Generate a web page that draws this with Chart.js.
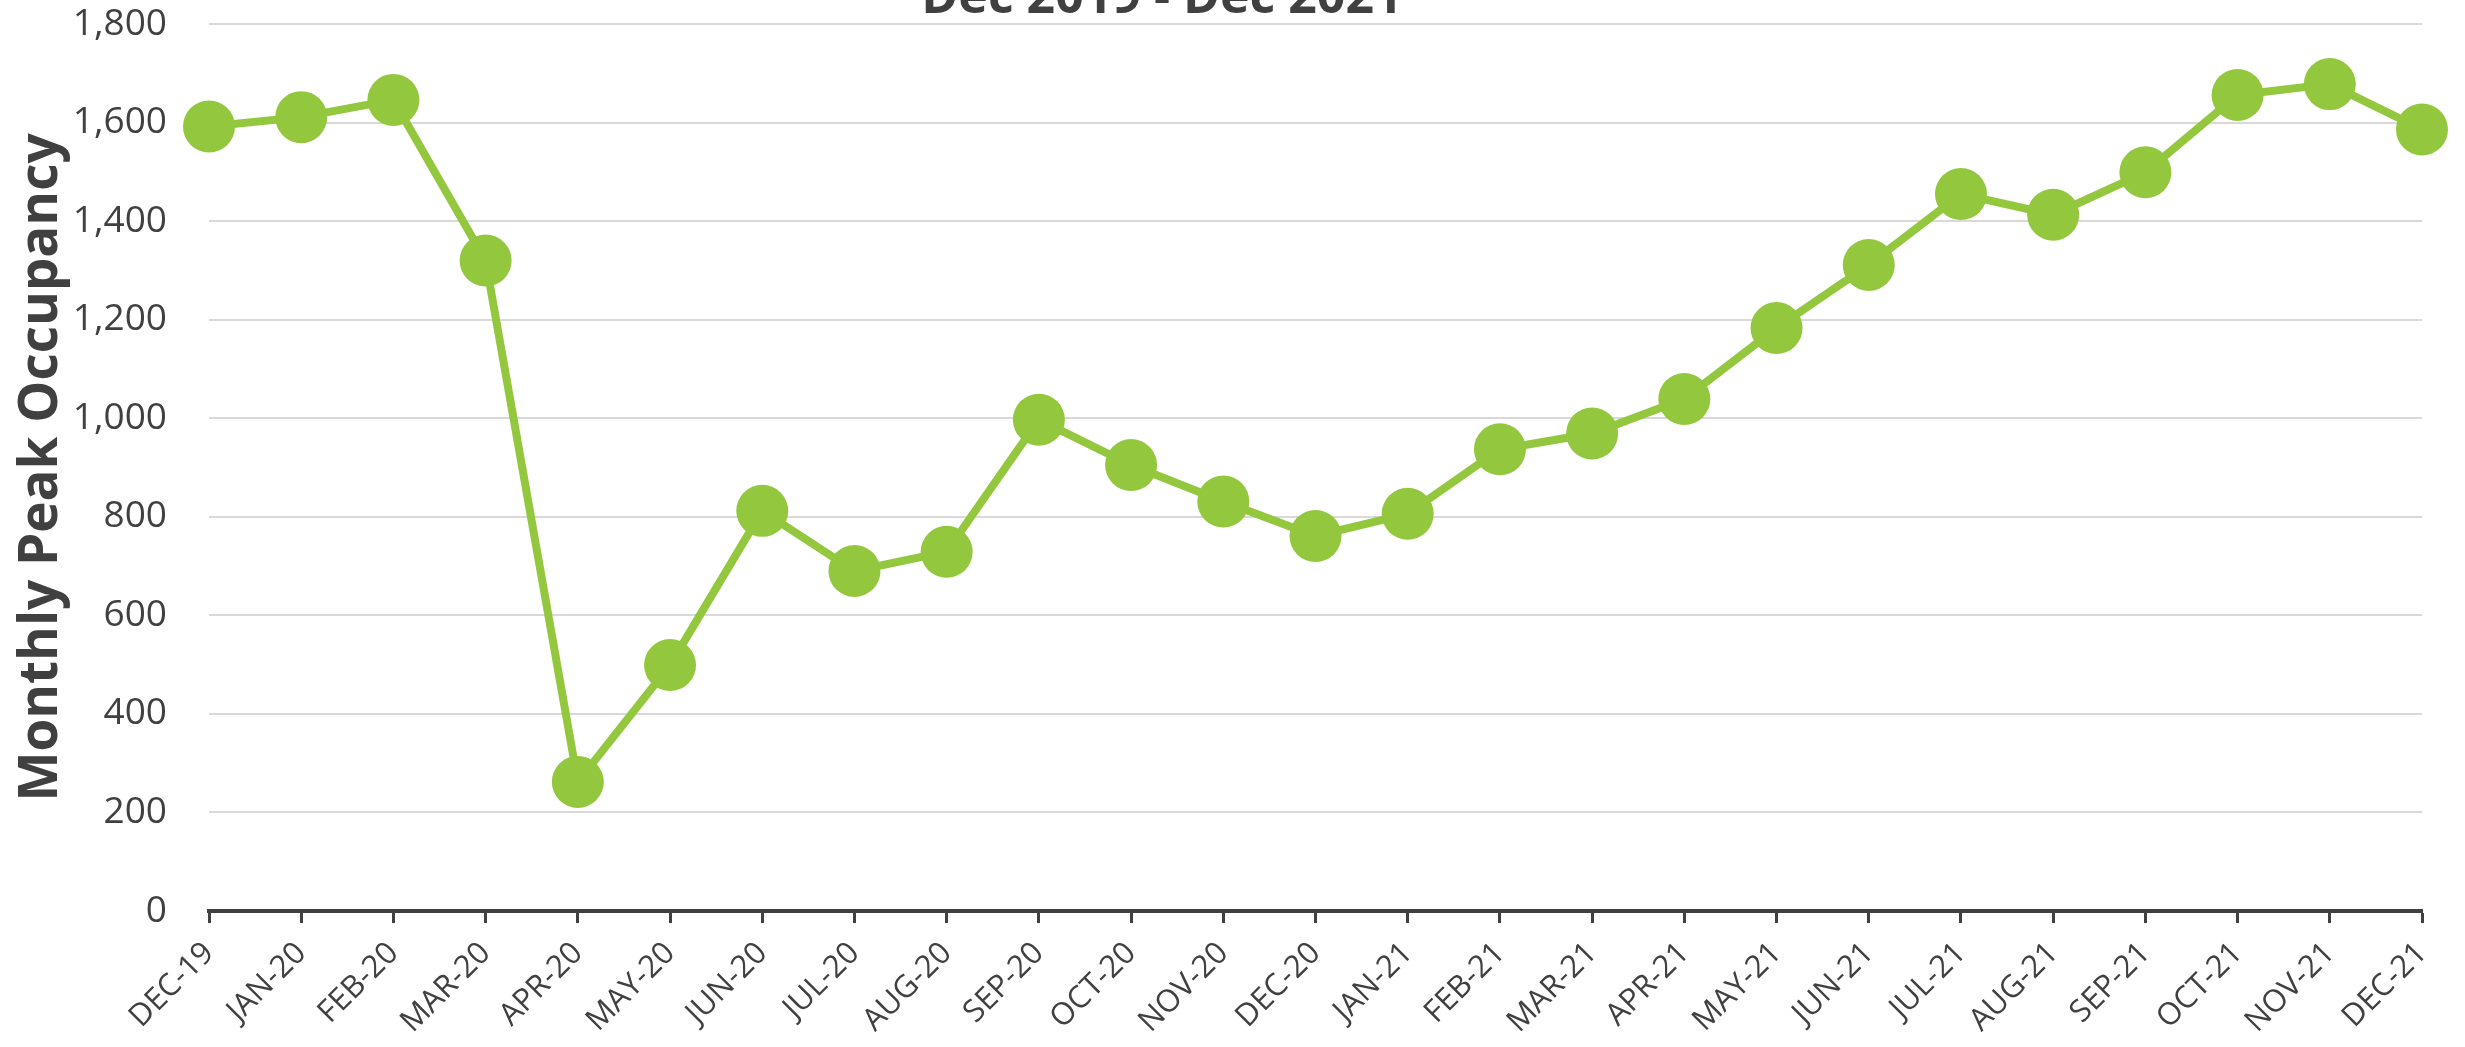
<!DOCTYPE html>
<html>
<head>
<meta charset="utf-8">
<script src="https://cdn.jsdelivr.net/npm/chart.js@4"></script>
<style>
  html, body { margin: 0; padding: 0; background: #fff; }
  #wrap { width: 2465px; height: 1047px; }
</style>
</head>
<body>
<div id="wrap"><canvas id="occChart" width="2465" height="1047"></canvas></div>
<script>
// Monthly peak occupancy
const months = ['DEC-19', 'JAN-20', 'FEB-20', 'MAR-20', 'APR-20', 'MAY-20', 'JUN-20', 'JUL-20',
  'AUG-20', 'SEP-20', 'OCT-20', 'NOV-20', 'DEC-20', 'JAN-21', 'FEB-21', 'MAR-21', 'APR-21',
  'MAY-21', 'JUN-21', 'JUL-21', 'AUG-21', 'SEP-21', 'OCT-21', 'NOV-21', 'DEC-21'];
const peakOccupancy = [1592, 1611, 1646, 1320, 262, 499, 812, 690, 729, 997, 905, 831, 761,
  806, 937, 969, 1039, 1183, 1311, 1455, 1413, 1499, 1656, 1678, 1586];
const yTicks = [0, 200, 400, 600, 800, 1000, 1200, 1400, 1600, 1800];
const titleText = 'Dec 2019 - Dec 2021';

const green = '#93C83E';
const darkText = '#404040';

// title sits partly off the top edge in the original, so draw it by hand
const titlePlugin = {
  id: 'cutTitle',
  afterDraw(chart) {
    const ctx = chart.ctx;
    ctx.save();
    ctx.font = 'bold 50px "Open Sans"';
    ctx.fillStyle = darkText;
    ctx.textAlign = 'center';
    ctx.textBaseline = 'alphabetic';
    ctx.fillText(titleText, 1162, 13);
    ctx.restore();
  }
};

const ctx = document.getElementById('occChart').getContext('2d');
new Chart(ctx, {
  type: 'line',
  data: {
    labels: months,
    datasets: [{
      data: peakOccupancy,
      borderColor: green,
      backgroundColor: green,
      borderWidth: 8,
      pointRadius: 26,
      pointBorderWidth: 0,
      pointBackgroundColor: green,
      tension: 0,
      clip: false
    }]
  },
  options: {
    responsive: false,
    animation: false,
    layout: { autoPadding: false, padding: { top: 24, right: 43, left: 0, bottom: 0 } },
    plugins: {
      legend: { display: false },
      tooltip: { enabled: false }
    },
    scales: {
      x: {
        offset: false,
        grid: {
          drawOnChartArea: false,
          drawTicks: true,
          tickLength: 12,
          tickWidth: 3,
          tickColor: darkText
        },
        border: { color: darkText, width: 4 },
        ticks: {
          autoSkip: false,
          maxRotation: 45,
          minRotation: 45,
          padding: 12,
          color: darkText,
          font: { family: 'Open Sans', size: 31 }
        },
        afterFit(scale) { scale.height = 136; }
      },
      y: {
        min: 0,
        max: 1800,
        afterBuildTicks(scale) { scale.ticks = yTicks.map(v => ({ value: v })); },
        grid: { color: '#d9d9d9', lineWidth: 2, drawTicks: false },
        border: { display: false },
        ticks: {
          padding: 42,
          color: darkText,
          font: { family: 'Open Sans', size: 37 },
          callback: v => v.toLocaleString('en-US')
        },
        title: {
          display: true,
          text: 'Monthly Peak Occupancy',
          color: darkText,
          font: { family: 'Open Sans', size: 53, weight: 'bold' },
          padding: { top: 10, bottom: 0 }
        },
        afterFit(scale) {
          scale.width = 209;
          // tick padding would otherwise push the plot top down
          scale.paddingTop = 0;
          scale.paddingBottom = 0;
        }
      }
    }
  },
  plugins: [titlePlugin]
});
</script>
</body>
</html>
